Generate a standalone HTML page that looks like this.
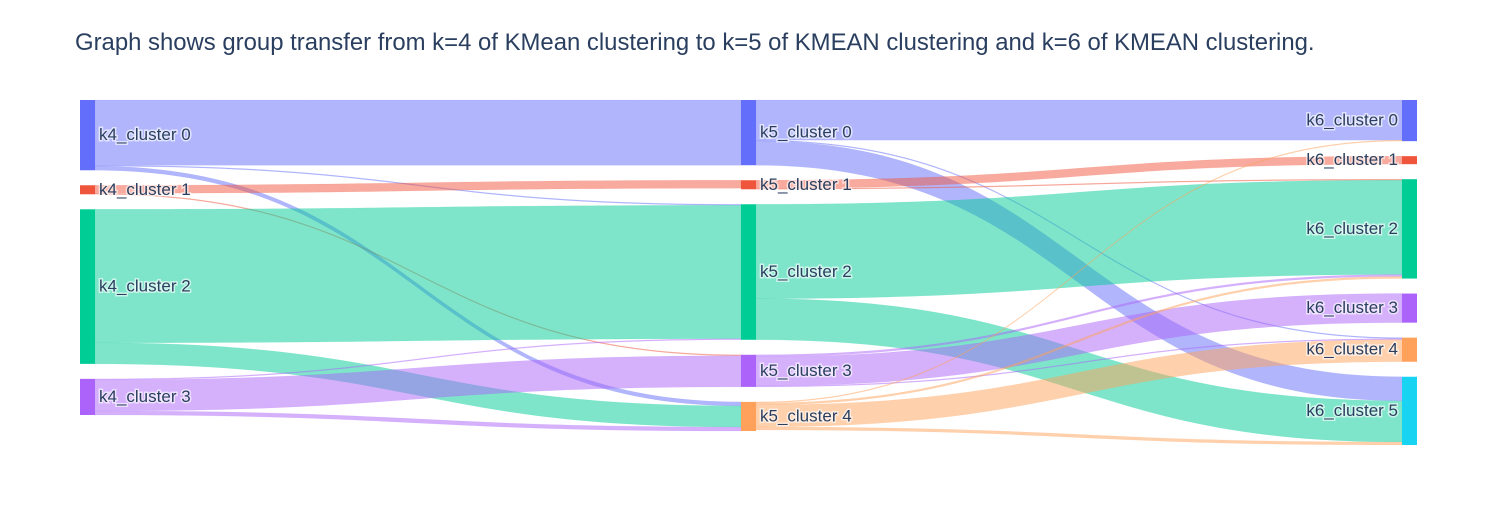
<!DOCTYPE html>
<html><head><meta charset="utf-8">
<style>
body{margin:0;background:#fff;}
svg{display:block;font-family:"Liberation Sans",Arial,sans-serif;}
.lbl{font-size:17px;fill:#2a3f5f;paint-order:stroke;stroke:#fff;stroke-width:3px;stroke-opacity:0.6;}
</style></head>
<body>
<svg id="chart" width="1497" height="525">
<rect width="1497" height="525" fill="#fff"/>
<text x="75" y="50" font-size="23.9" fill="#2a3f5f">Graph shows group transfer from k=4 of KMean clustering to k=5 of KMEAN clustering and k=6 of KMEAN clustering.</text>
<g id="links"></g><g id="nodes"></g>
</svg>
<script>
const nodeLabels=["k4_cluster 0","k4_cluster 1","k4_cluster 2","k4_cluster 3","k5_cluster 0","k5_cluster 1","k5_cluster 2","k5_cluster 3","k5_cluster 4","k6_cluster 0","k6_cluster 1","k6_cluster 2","k6_cluster 3","k6_cluster 4","k6_cluster 5"];
const nodeColumns=[0,0,0,0,1,1,1,1,1,2,2,2,2,2,2];
const nodeColors=["#636efa","#EF553B","#00cc96","#ab63fa","#636efa","#EF553B","#00cc96","#ab63fa","#FFA15A","#636efa","#EF553B","#00cc96","#ab63fa","#FFA15A","#19d3f3"];
const linkSources=[0,0,0,1,1,2,2,3,3,3,4,4,4,5,5,6,6,7,7,7,8,8,8,8];
const linkTargets=[4,6,8,5,7,6,8,6,7,8,9,13,14,10,11,11,14,11,12,13,9,11,13,14];
const linkValues=[65,1,4,8,1,133,21,1,31,4,40,1,24,8,1,94,41,2,29,1,1,2,22,3];

(function(){
const colX=[80,741,1402], nodeW=15, yTop=100, yBottom=445, gap=15;
const N=nodeLabels.length;
const inV=new Array(N).fill(0), outV=new Array(N).fill(0);
linkValues.forEach((v,i)=>{outV[linkSources[i]]+=v;inV[linkTargets[i]]+=v;});
const nodeV=nodeLabels.map((_,i)=>Math.max(inV[i],outV[i]));
let scale=Infinity;
[0,1,2].forEach(c=>{const ids=nodeLabels.map((_,i)=>i).filter(i=>nodeColumns[i]===c);
 const s=ids.reduce((a,i)=>a+nodeV[i],0);
 scale=Math.min(scale,(yBottom-yTop-gap*(ids.length-1))/s);});
const ny=[],nh=[];
[0,1,2].forEach(c=>{let y=yTop;nodeLabels.forEach((_,i)=>{if(nodeColumns[i]===c){ny[i]=y;nh[i]=nodeV[i]*scale;y+=nh[i]+gap;}});});
const NS="http://www.w3.org/2000/svg";
const gl=document.getElementById('links'), gn=document.getElementById('nodes');
const hex2rgba=(h,a)=>{const n=parseInt(h.slice(1),16);return `rgba(${n>>16},${(n>>8)&255},${n&255},${a})`;};
const sOff=new Array(N).fill(0), tOff=new Array(N).fill(0);
const order=linkValues.map((_,i)=>i);
const srcOrder=[...order].sort((a,b)=>linkSources[a]-linkSources[b]||linkTargets[a]-linkTargets[b]);
const tgtOrder=[...order].sort((a,b)=>linkTargets[a]-linkTargets[b]||linkSources[a]-linkSources[b]);
const sy={},ty={};
srcOrder.forEach(i=>{const s=linkSources[i];sy[i]=ny[s]+sOff[s];sOff[s]+=linkValues[i]*scale;});
tgtOrder.forEach(i=>{const t=linkTargets[i];ty[i]=ny[t]+tOff[t];tOff[t]+=linkValues[i]*scale;});
order.forEach(i=>{
 const s=linkSources[i],t=linkTargets[i],h=linkValues[i]*scale;
 const x0=colX[nodeColumns[s]]+nodeW,x1=colX[nodeColumns[t]],xm=(x0+x1)/2;
 const y0=sy[i],y1=ty[i];
 const p=document.createElementNS(NS,'path');
 p.setAttribute('d',`M${x0},${y0}C${xm},${y0} ${xm},${y1} ${x1},${y1}L${x1},${y1+h}C${xm},${y1+h} ${xm},${y0+h} ${x0},${y0+h}Z`);
 p.setAttribute('fill',hex2rgba(nodeColors[s],0.5));
 p.setAttribute('stroke',hex2rgba(nodeColors[s],0.3));p.setAttribute('stroke-width','0.3');
 
 
 gl.appendChild(p);
});
nodeLabels.forEach((l,i)=>{
 const c=nodeColumns[i];
 const r=document.createElementNS(NS,'rect');
 r.setAttribute('x',colX[c]);r.setAttribute('y',ny[i]);r.setAttribute('width',nodeW);r.setAttribute('height',Math.max(nh[i],1));
 r.setAttribute('fill',nodeColors[i]);
 
 
 gn.appendChild(r);
 const t=document.createElementNS(NS,'text');
 t.setAttribute('class','lbl');
 t.setAttribute('y',ny[i]+nh[i]/2+5);
 if(c===2){t.setAttribute('x',colX[c]-4);t.setAttribute('text-anchor','end');}
 else t.setAttribute('x',colX[c]+nodeW+4);
 t.textContent=l;
 
 
 gn.appendChild(t);
});
})();
</script>
</body></html>
